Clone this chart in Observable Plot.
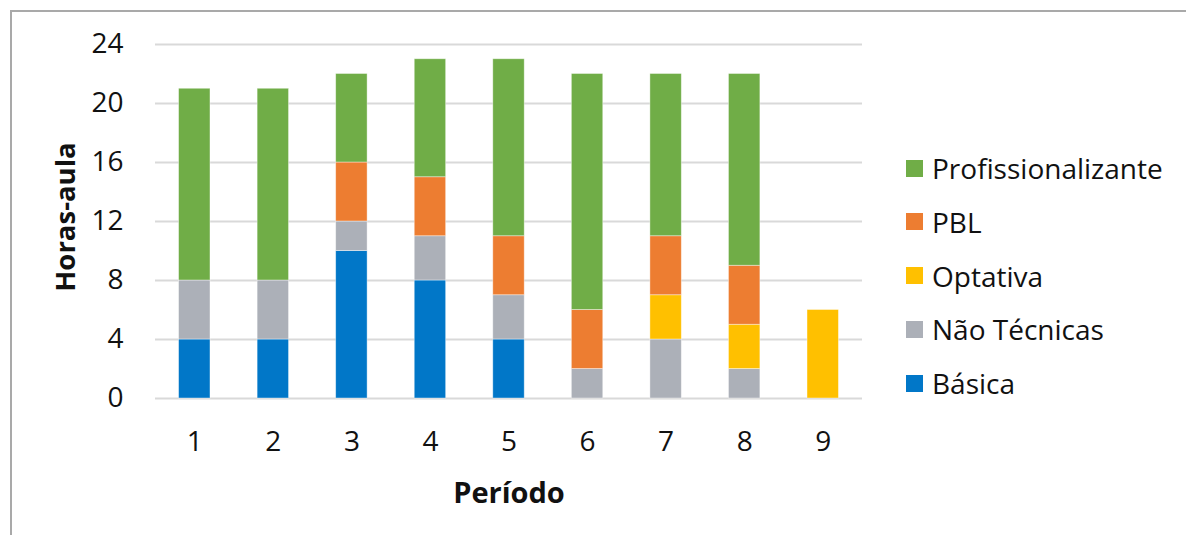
<!DOCTYPE html>
<html>
<head>
<meta charset="utf-8">
<script src="https://cdn.jsdelivr.net/npm/d3@7"></script>
<script src="https://cdn.jsdelivr.net/npm/@observablehq/plot@0.6"></script>
<style>
  html, body { margin: 0; padding: 0; background: #fff; overflow: hidden; }
  body { width: 1186px; height: 535px; position: relative; font-family: "Open Sans", sans-serif; }
  #frame { position: absolute; left: 10px; top: 10px; width: 1300px; height: 700px;
           border-top: 2px solid #a9a9a9; border-left: 2px solid #a9a9a9; box-sizing: border-box; }
  #chart { position: absolute; left: 0; top: 0; }
  #legend { position: absolute; left: 906px; top: 153px; }
  .item { position: absolute; left: 0; display: flex; align-items: center; white-space: nowrap;
          font-size: 28px; color: #111; height: 30px; }
  .sw { width: 17px; height: 17px; margin-right: 9px; }
</style>
</head>
<body>
<div id="frame"></div>
<div id="chart"></div>
<div id="legend"></div>
<script>
const periods = [1, 2, 3, 4, 5, 6, 7, 8, 9];
const series = ["Básica", "Não Técnicas", "Optativa", "PBL", "Profissionalizante"];
const colors = ["#0177C8", "#ACB0B8", "#FFC000", "#ED7D31", "#70AD47"];
const basica = [4, 4, 10, 8, 4, 0, 0, 0, 0];
const naoTecnicas = [4, 4, 2, 3, 3, 2, 4, 2, 0];
const optativa = [0, 0, 0, 0, 0, 0, 3, 3, 6];
const pbl = [0, 0, 4, 4, 4, 4, 4, 4, 0];
const profissionalizante = [13, 13, 6, 8, 12, 16, 11, 13, 0];
const yTicks = [0, 4, 8, 12, 16, 20, 24];

const valuesBySeries = [basica, naoTecnicas, optativa, pbl, profissionalizante];
const data = [];
series.forEach((s, i) => {
  periods.forEach((p, j) => {
    data.push({ periodo: String(p), serie: s, horas: valuesBySeries[i][j] });
  });
});

const chart = Plot.plot({
  width: 880,
  height: 535,
  marginLeft: 155,
  marginRight: 18,
  marginTop: 44,
  marginBottom: 137,
  style: { fontFamily: "'Open Sans', sans-serif", color: "#111", background: "transparent" },
  x: { domain: periods.map(String), paddingInner: 0.6, paddingOuter: 0.3, round: false, label: null },
  y: { domain: [0, 24], label: null },
  color: { domain: series, range: colors },
  marks: [
    Plot.gridY(yTicks, { stroke: "#d9d9d9", strokeOpacity: 1, strokeWidth: 2 }),
    Plot.barY(data, Plot.stackY({ order: series }, {
      x: "periodo", y: "horas", fill: "serie",
      stroke: "#ffffff", strokeWidth: 0.8, strokeOpacity: 0.5
    })),
    Plot.axisY({ ticks: yTicks, tickSize: 0, tickPadding: 32, fontSize: 28, label: null }),
    Plot.axisX({ tickSize: 0, tickPadding: 33, fontSize: 28, label: null }),
    Plot.text(["Horas-aula"], { frameAnchor: "left", textAnchor: "middle", lineAnchor: "middle", dx: -89, dy: -4.5, rotate: -90, fontWeight: "bold", fontSize: 27.5, fill: "#111" }),
    Plot.text(["Período"], { frameAnchor: "bottom", dy: 104, fontWeight: "bold", fontSize: 29, fill: "#111" })
  ]
});
document.getElementById("chart").appendChild(chart);

// Legend (top to bottom: reversed stack order)
const legend = document.getElementById("legend");
const order = series.map((s, i) => ({ s, c: colors[i] })).reverse();
order.forEach((d, i) => {
  const item = document.createElement("div");
  item.className = "item";
  item.style.top = (i * 53.75) + "px";
  const sw = document.createElement("span");
  sw.className = "sw";
  sw.style.background = d.c;
  const t = document.createElement("span");
  t.textContent = d.s;
  item.appendChild(sw);
  item.appendChild(t);
  legend.appendChild(item);
});
</script>
</body>
</html>
